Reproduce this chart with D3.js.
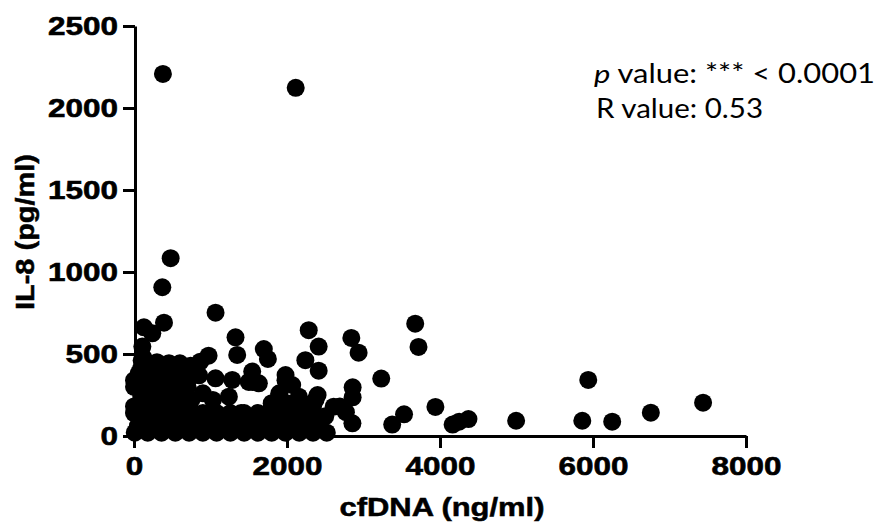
<!DOCTYPE html>
<html>
<head>
<meta charset="utf-8">
<script src="https://cdn.jsdelivr.net/npm/d3@7/dist/d3.min.js"></script>
<style>
  html, body { margin: 0; padding: 0; background: #fff; }
  svg { display: block; }
</style>
</head>
<body>
<svg id="chart" width="879" height="527"></svg>
<script>
// ---- Data ----
const xTicks = [0, 2000, 4000, 6000, 8000];
const yTicks = [0, 500, 1000, 1500, 2000, 2500];
const xTitle = "cfDNA (ng/ml)";
const yTitle = "IL-8 (pg/ml)";
const pLine = ["p", " value: *** < 0.0001"];
const rLine = "R value: 0.53";

// cfDNA (ng/ml) and IL-8 (pg/ml) of each sample
const cfDNA = [
  378, 2114, 479, 370, 1066, 130, 239, 392, 109, 1327, 1349, 1697, 1750, 2284, 2414, 2240,
  2841, 2936, 3676, 3719, 3232, 2858, 2858, 2690, 2770, 2855, 3375, 3530, 3940, 4165, 4250,
  4372, 4995, 5938, 5860, 6251, 6756, 7439, 218, 457, 600, 740, 866, 975, 2414, 2610, 1066,
  1284, 1240, 1545, 1632, 1981, 2068, 1894, 2155, 2373, 900, 1031, 2400,
  10, 180, 360, 540, 720, 900, 1080, 1260, 1440, 1620, 1800, 1980, 2160, 2340, 2520,
  90, 270, 450, 630, 810, 990, 1170, 1350, 1530, 1710, 1890, 2070, 2250, 2430,
  0, 180, 360, 540, 720, 1800, 1980, 2160, 2340,
  90, 270, 450, 630, 1900,
  0, 180, 360, 540, 700, 1550, 1980,
  90, 270, 450, 630, 800,
  50, 300, 600, 150, 500, 820, 1150, 1400, 1700, 2000, 2300, 2500, 60, 700, 1500,
  90, 270, 450, 630, 810, 990, 1170, 1350, 1530, 1710, 1890, 2070, 2250, 2430,
  0, 180, 360, 540, 720, 900, 1080, 1260, 1440, 1620, 1800, 1980, 2160, 2340,
  90, 270, 450, 630, 750, 1800, 2000, 2250,
  0, 180, 360, 540, 660, 1180, 1220,
  180, 360, 540, 480, 300, 120,
  300, 700, 850, 100, 200, 420
];
const il8 = [
  2208, 2123, 1084, 907, 752, 663, 626, 691, 545, 602, 494, 530, 470, 645, 545, 462,
  598, 508, 685, 543, 350, 297, 236, 180, 145, 77, 70, 132, 177, 70, 87,
  103, 93, 342, 93, 87, 142, 203, 441, 444, 443, 428, 453, 490, 398, 179, 352,
  342, 240, 393, 321, 372, 311, 240, 240, 220, 260, 220, 250,
  20, 20, 20, 20, 20, 20, 20, 20, 20, 20, 20, 20, 20, 20, 20,
  100, 100, 100, 100, 100, 100, 100, 100, 100, 100, 100, 100, 100, 100,
  180, 180, 180, 180, 180, 180, 180, 180, 180,
  260, 260, 260, 260, 260,
  340, 340, 340, 340, 340, 330, 340,
  410, 410, 410, 410, 410,
  60, 50, 140, 300, 220, 60, 50, 140, 60, 140, 60, 120, 380, 300, 330,
  60, 60, 60, 60, 60, 60, 60, 60, 60, 60, 60, 60, 60, 60,
  140, 140, 140, 140, 140, 140, 140, 140, 140, 140, 140, 140, 140, 140,
  220, 220, 220, 220, 220, 200, 200, 190,
  300, 300, 300, 300, 300, 120, 90,
  380, 380, 380, 240, 220, 480,
  450, 380, 370, 460, 420, 350
];

// ---- Layout ----
const svg = d3.select("#chart");
const x = d3.scaleLinear().domain([0, 8000]).range([134, 746]);
const y = d3.scaleLinear().domain([0, 2500]).range([436, 26]);

const digitW = 17.5;

// axes
const gx = svg.append("g")
  .attr("transform", "translate(0,436)")
  .call(d3.axisBottom(x).tickValues(xTicks).tickFormat(d3.format("d"))
        .tickSize(12).tickSizeOuter(0).tickPadding(9));
const gy = svg.append("g")
  .attr("transform", "translate(135,0)")
  .call(d3.axisLeft(y).tickValues(yTicks).tickFormat(d3.format("d"))
        .tickSize(12).tickSizeOuter(0).tickPadding(5));

[gx, gy].forEach(g => {
  g.select(".domain").attr("stroke", "#000").attr("stroke-width", 3);
  g.selectAll(".tick line").attr("stroke", "#000").attr("stroke-width", 3);
  g.selectAll(".tick text")
    .attr("fill", "#000")
    .attr("stroke", "#000").attr("stroke-width", 0.6)
    .style("font-family", "'Liberation Sans', Arial, sans-serif")
    .style("font-weight", "bold")
    .style("font-size", "26px")
    .attr("textLength", d => String(d).length * digitW)
    .attr("lengthAdjust", "spacingAndGlyphs");
});

// points
svg.append("g").selectAll("circle")
  .data(cfDNA.map((v, i) => ({ x: v, y: il8[i] })))
  .join("circle")
  .attr("cx", d => x(d.x))
  .attr("cy", d => y(d.y))
  .attr("r", 9)
  .attr("fill", "#000");

// axis titles
svg.append("text")
  .attr("x", 442).attr("y", 516)
  .attr("text-anchor", "middle")
  .attr("stroke", "#000").attr("stroke-width", 0.5)
  .style("font-family", "'Liberation Sans', Arial, sans-serif")
  .style("font-weight", "bold").style("font-size", "25px")
  .attr("textLength", 205).attr("lengthAdjust", "spacingAndGlyphs")
  .text(xTitle);

svg.append("text")
  .attr("transform", "translate(34,232) rotate(-90)")
  .attr("text-anchor", "middle")
  .attr("stroke", "#000").attr("stroke-width", 0.5)
  .style("font-family", "'Liberation Sans', Arial, sans-serif")
  .style("font-weight", "bold").style("font-size", "25px")
  .attr("textLength", 156).attr("lengthAdjust", "spacingAndGlyphs")
  .text(yTitle);

// annotation
const ann = svg.append("g")
  .style("font-family", "Lato, 'Open Sans', sans-serif")
  .style("font-size", "26px").attr("fill", "#000");
const t1 = ann.append("text").attr("x", 594).attr("y", 83)
  .attr("textLength", 281).attr("lengthAdjust", "spacingAndGlyphs");
t1.append("tspan").style("font-style", "italic").text(pLine[0]);
t1.append("tspan").text(pLine[1]);
ann.append("text").attr("x", 596).attr("y", 118)
  .attr("textLength", 167).attr("lengthAdjust", "spacingAndGlyphs")
  .text(rLine);
</script>
</body>
</html>
